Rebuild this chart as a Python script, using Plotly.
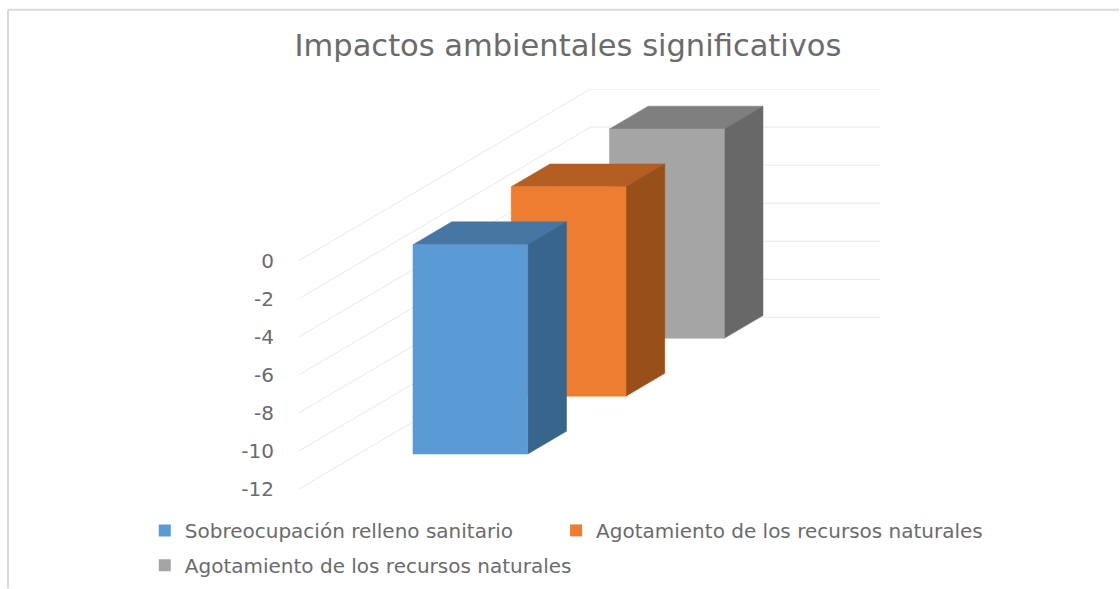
import plotly.graph_objects as go

# Data
title = "Impactos ambientales significativos"
series_names = ["Sobreocupación relleno sanitario",
                "Agotamiento de los recursos naturales",
                "Agotamiento de los recursos naturales"]
series_values = [-11, -11, -11]
tick_values = [0, -2, -4, -6, -8, -10, -12]
tick_labels = ["0", "-2", "-4", "-6", "-8", "-10", "-12"]
front_colors = ["#5B9BD5", "#ED7D31", "#A5A5A5"]
top_colors = ["#4776A4", "#B45E23", "#7F7F7F"]
side_colors = ["#38658C", "#98501B", "#686868"]

# Oblique projection of the 3-D column chart
UNIT_X = 290      # x units for the floor width
DEPTH_X = 292     # x shift for full depth
DEPTH_Y = 172 / 19.08  # value-axis shift for full depth
BAR_LEFT = 87
BAR_W = 115
BAR_DEPTH = 0.133
DEPTHS = [0.093, 0.43, 0.767]
TEXT = "#6B6B6B"
FONT = "DejaVu Sans"


def px(x, d):
    return x + d * DEPTH_X


def py(v, d):
    return v + d * DEPTH_Y


fig = go.Figure()

# Legend entries
legend_ids = ["legend", "legend2", "legend3"]
for i, name in enumerate(series_names):
    fig.add_trace(go.Scatter(
        x=[None], y=[None], mode="markers", name=name,
        marker=dict(symbol="square", size=12, color=front_colors[i]),
        legend=legend_ids[i],
    ))

# Wall gridlines
for v in tick_values:
    fig.add_trace(go.Scatter(
        x=[px(0, 0), px(0, 1), px(UNIT_X, 1)],
        y=[py(v, 0), py(v, 1), py(v, 1)],
        mode="lines", line=dict(color="#E9E9E9", width=1),
        showlegend=False, hoverinfo="skip",
    ))


def face(xs, ys, color):
    fig.add_trace(go.Scatter(
        x=xs, y=ys, mode="lines", fill="toself", fillcolor=color,
        line=dict(color=color, width=0.5), showlegend=False, hoverinfo="skip",
    ))


# Columns, back to front
for i in [2, 1, 0]:
    v, d = series_values[i], DEPTHS[i]
    d2 = d + BAR_DEPTH
    xl, xr = BAR_LEFT, BAR_LEFT + BAR_W
    face([px(xl, d), px(xr, d), px(xr, d2), px(xl, d2), px(xl, d)],
         [py(0, d), py(0, d), py(0, d2), py(0, d2), py(0, d)], top_colors[i])
    face([px(xr, d), px(xr, d2), px(xr, d2), px(xr, d), px(xr, d)],
         [py(0, d), py(0, d2), py(v, d2), py(v, d), py(0, d)], side_colors[i])
    face([px(xl, d), px(xr, d), px(xr, d), px(xl, d), px(xl, d)],
         [py(0, d), py(0, d), py(v, d), py(v, d), py(0, d)], front_colors[i])

W, H = 1120, 589
L, R, T, B = 298.5, 880.5, 88.5, 489.5


def fx(p):
    return (p - L) / (R - L)


def fy(p):
    return (B - p) / (B - T)


legend_common = dict(
    orientation="h", xanchor="left", yanchor="middle",
    bgcolor="rgba(0,0,0,0)", itemsizing="constant", itemclick=False,
    font=dict(family=FONT, size=20, color=TEXT),
)

fig.update_layout(
    width=W, height=H, autosize=False,
    paper_bgcolor="white", plot_bgcolor="white",
    margin=dict(l=L, r=W - R, t=T, b=H - B, autoexpand=False),
    title=dict(text=title, x=568 / W, xanchor="center", y=1 - 45 / H, yanchor="middle",
               font=dict(family=FONT, size=30.5, color=TEXT)),
    xaxis=dict(range=[0, UNIT_X + DEPTH_X], visible=False, fixedrange=True),
    yaxis=dict(range=[-12, DEPTH_Y], tickmode="array", tickvals=tick_values, ticktext=tick_labels,
               showgrid=False, zeroline=False, showline=False, fixedrange=True,
               ticks="outside", ticklen=20, tickcolor="rgba(0,0,0,0)",
               tickfont=dict(family=FONT, size=20, color=TEXT)),
    legend=dict(x=fx(144), y=fy(531), **legend_common),
    legend2=dict(x=fx(556), y=fy(531), **legend_common),
    legend3=dict(x=fx(144), y=fy(566), **legend_common),
    shapes=[
        dict(type="line", xref="paper", yref="paper", x0=fx(7), x1=fx(1120), y0=fy(9), y1=fy(9),
             line=dict(color="#D9D9D9", width=2)),
        dict(type="line", xref="paper", yref="paper", x0=fx(7), x1=fx(7), y0=fy(9), y1=fy(589),
             line=dict(color="#D9D9D9", width=2)),
    ],
)

fig.write_html("out.html", config=dict(displayModeBar=False),
               post_script="document.body.style.margin='0';document.body.style.overflow='hidden';")
